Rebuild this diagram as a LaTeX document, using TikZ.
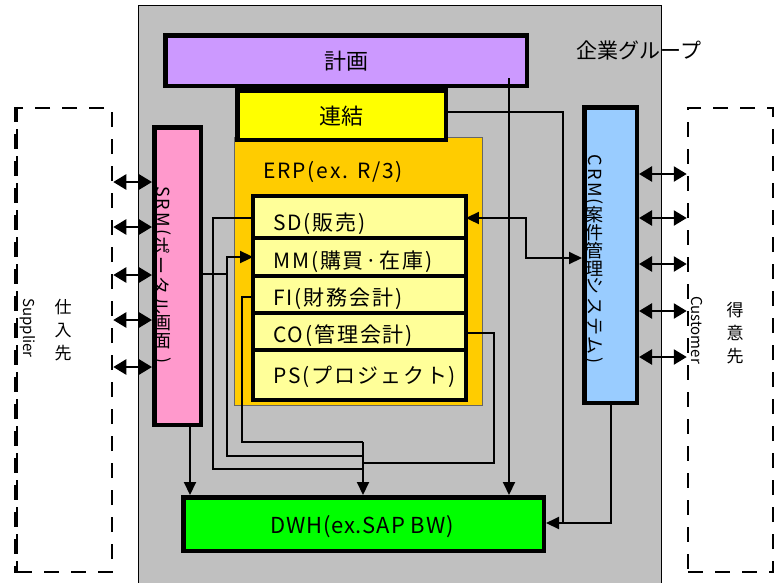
\documentclass[tikz,border=0pt]{standalone}
\usepackage{fontspec}
\setmainfont{Noto Sans CJK JP}
\newfontfamily\spc[LetterSpace=9]{Noto Sans CJK JP}
\newfontfamily\spcs[LetterSpace=4]{Noto Sans CJK JP}
\newfontfamily\spcv[LetterSpace=12]{Noto Sans CJK JP}
\usetikzlibrary{arrows.meta}
\definecolor{grp}{HTML}{C0C0C0}
\definecolor{plancol}{HTML}{CC99FF}
\definecolor{linkcol}{HTML}{FFFF00}
\definecolor{erpcol}{HTML}{FFCC00}
\definecolor{modcol}{HTML}{FFFF99}
\definecolor{pinkcol}{HTML}{FF99CC}
\definecolor{bluecol}{HTML}{99CCFF}
\definecolor{dwhcol}{HTML}{00FF00}
\newcommand{\rotl}[1]{\rotatebox[origin=c]{-90}{\spcv #1}}
\begin{document}
\begin{tikzpicture}[x=1pt,y=-1pt,
  box/.style={draw=black, line width=4.5pt, inner sep=0pt},
  fillbox/.style={inner sep=0pt, draw=none},
  conn/.style={line width=2pt, draw=black},
  arr/.style={conn, -{Triangle[length=13pt,width=12pt]}},
  dbl/.style={line width=2.5pt, {Triangle[length=13pt,width=15pt]}-{Triangle[length=13pt,width=15pt]}},
  dbl2/.style={line width=2pt, {Triangle[length=13pt,width=12pt]}-{Triangle[length=13pt,width=12pt]}},
  dashbox/.style={draw=black, line width=2.5pt, dash pattern=on 15pt off 12pt, inner sep=0pt},
  big/.style={font=\fontsize{22}{24}\selectfont},
  rowtext/.style={font=\fontsize{21}{23}\selectfont\spc, anchor=west, inner sep=0pt},
  vtext/.style={font=\fontsize{18}{18}\selectfont, align=center, inner sep=0pt},
  side/.style={font=\fontsize{17}{23}\selectfont, align=center, inner sep=0pt}
]
\useasboundingbox (0,0) rectangle (781,582);
\fill[white] (0,0) rectangle (781,582);

% company group
\node[draw=black, line width=0.8pt, fill=grp, minimum width=523pt, minimum height=590pt, inner sep=0pt] (group) at (399.5,300) {};
\node[font=\fontsize{21}{23}\selectfont] (grouplabel) at (639,50) {企業グループ};

% outside partners
\node[dashbox, minimum width=95pt, minimum height=464pt] (sup) at (64.5,340) {};
\draw[line width=4.5pt, dash pattern=on 15pt off 12pt] (sup.north west) -- (sup.south west);
\node[dashbox, minimum width=85pt, minimum height=464pt] (cus) at (730.5,340) {};
\node[side] (supt) at (63,330) {仕\\入\\先};
\node[side] (cust) at (735,333) {得\\意\\先};
\node[font=\fontsize{15}{17}\selectfont, rotate=-90, inner sep=0pt] (supg) at (28,328) {Supplier};
\node[font=\fontsize{15}{17}\selectfont, rotate=-90, inner sep=0pt] (cusg) at (697,330) {Customer};

% ERP area
\node[draw=black!60, line width=0.8pt, fill=erpcol, minimum width=248pt, minimum height=268pt, inner sep=0pt] (erp) at (358,271) {};
\node[font=\fontsize{21}{23}\selectfont\spc, anchor=west, inner sep=0pt] (erpt) at (263,172) {ERP(ex. R/3)};

% plan and link
\node[box, fill=plancol, minimum width=361.5pt, minimum height=50.5pt] (plan) at (346,60.5) {};
\node[big] (plant) at (346,61) {計画};
\node[box, fill=linkcol, minimum width=208.5pt, minimum height=49.5pt] (link) at (341.5,115) {};
\node[big] (linkt) at (341.5,116) {連結};

% modules
\node[fillbox, fill=modcol, minimum width=212.5pt, minimum height=41.75pt] (sd) at (359.5,217.1) {};
\node[fillbox, fill=modcol, minimum width=212.5pt, minimum height=38pt] (mm) at (359.5,257) {};
\node[fillbox, fill=modcol, minimum width=212.5pt, minimum height=37pt] (fi) at (359.5,294.5) {};
\node[fillbox, fill=modcol, minimum width=212.5pt, minimum height=37pt] (co) at (359.5,331.5) {};
\node[fillbox, fill=modcol, minimum width=212.5pt, minimum height=49.75pt] (ps) at (359.5,374.9) {};
\node[rowtext] (sdt) at (273,224) {SD(販売)};
\node[rowtext] (mmt) at (273,262) {MM(購買·在庫)};
\node[rowtext] (fit) at (273,299) {FI(財務会計)};
\node[rowtext] (cot) at (273,336) {CO(管理会計)};
\node[rowtext] (pst) at (273,377) {PS(プロジェクト)};
\foreach \r in {sd,mm,fi,co,ps}
  \draw[line width=4.5pt] (\r.north west) rectangle (\r.south east);

% side systems
\node[box, fill=pinkcol, minimum width=46.5pt, minimum height=297.5pt] (pink) at (177.5,276) {};
\node[vtext] (pinkt) at (162,276) {\rotl{SRM(}\\\rotl{ポータル}\\画\\面\\\rotl{)}};
\node[box, fill=bluecol, minimum width=52.5pt, minimum height=295.5pt] (blue) at (610.5,255) {};
\node[vtext] (bluet) at (594,259) {\rotl{CRM(}\\案\\件\\管\\理\\\rotl{システム)}};

% DWH
\node[box, fill=dwhcol, minimum width=360.5pt, minimum height=53.5pt] (dwh) at (363.5,524) {};
\node[font=\fontsize{22}{24}\selectfont\spcs] (dwht) at (362,527) {DWH(ex.SAP BW)};

% partner arrows
\foreach \y in {182,227,275,320,367}
  \draw[dbl] (sup.east |- 0,\y) -- (pink.west |- 0,\y);
\foreach \y in {174,218,264,311,357}
  \draw[dbl] (blue.east |- 0,\y) -- (cus.west |- 0,\y);

% connectors
\draw[arr] (pink.east |- 0,274) -| (227,257) -- (mm.west);
\draw[conn] (mm.west) -- (227,257) -- (227,456) -- (363,456);
\draw[conn] (sd.west |- 0,218) -| (213,469) -- (363,469);
\draw[conn] (fi.west |- 0,297) -| (242,442) -- (363,442);
\draw[conn] (co.east |- 0,333) -| (494,463) -- (363,463);
\draw[arr] (363,442) -- (dwh.north -| 363,0);
\draw[arr] (pink.south -| 190,0) -- (dwh.north -| 190,0);
\coordinate (planin) at (509,78);
\draw[arr] (planin) -- (dwh.north -| planin);
\draw[arr] (link.east |- 0,112) -| (563,523) -- (dwh.east |- 0,523);
\draw[conn] (blue.south -| 611,0) |- (563,523);
\draw[dbl2] (sd.east |- 0,218) -| (526,258) -- (blue.west |- 0,258);
\end{tikzpicture}
\end{document}
